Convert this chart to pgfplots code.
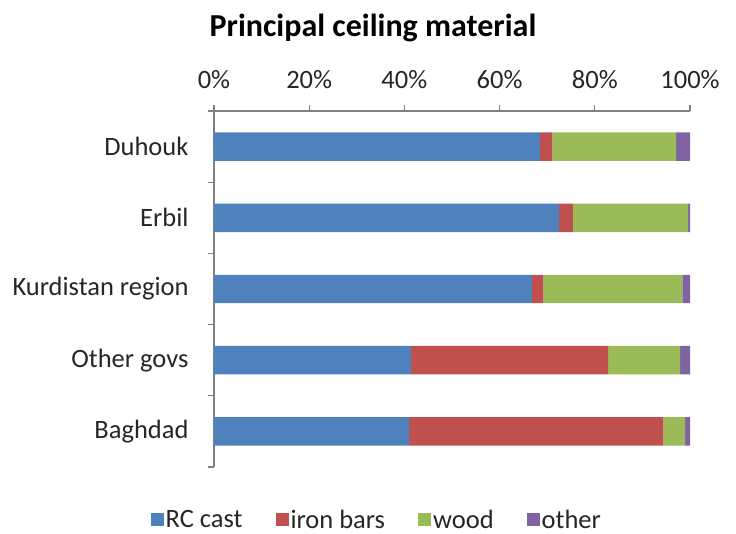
\documentclass[border=0pt]{standalone}
\usepackage{pgfplots}
\pgfplotsset{compat=1.18}
\usepackage{pgfplotstable}
\usepackage{fontspec}
\setmainfont{Carlito}
\definecolor{cblue}{HTML}{4F81BD}
\definecolor{cred}{HTML}{C0504D}
\definecolor{cgreen}{HTML}{9BBB59}
\definecolor{cpurple}{HTML}{8064A2}
\definecolor{axgray}{HTML}{808080}
\definecolor{txt}{HTML}{262626}
\pgfplotstableread{
y rc iron wood other
4 68.5 2.6 26.0 2.9
3 72.5 2.9 24.2 0.4
2 66.8 2.4 29.2 1.6
1 41.4 41.4 15.1 2.1
0 41.0 53.4 4.6 1.0
}\datatab
\begin{document}
\begin{tikzpicture}
\begin{axis}[
  scale only axis,
  width=476pt, height=356pt,
  xbar stacked,
  bar width=0.4,
  ymin=-0.5, ymax=4.5,
  xmin=0, xmax=100,
  axis x line*=top,
  axis y line*=left,
  axis line style={draw=axgray, line width=1.3pt},
  every tick/.style={draw=axgray, line width=1.3pt},
  tick align=outside,
  major tick length=6pt,
  xtick={0,20,40,60,80,100},
  xticklabels={0\%,20\%,40\%,60\%,80\%,100\%},
  ytick={-0.5,0.5,1.5,2.5,3.5,4.5},
  y tick label as interval,
  yticklabels={Baghdad,Other govs,Kurdistan region,Erbil,Duhouk},
  xticklabel style={font=\fontsize{26.5}{30}\selectfont, text=txt},
  yticklabel style={font=\fontsize{26.5}{30}\selectfont, text=txt},
  xticklabel shift=13pt,
  yticklabel shift=16pt,
  legend columns=4,
  legend style={draw=none, at={(0.342,-0.149)}, anchor=center,
    font=\fontsize{26.5}{30}\selectfont, text=txt,
    /tikz/every even column/.append style={column sep=31pt}},
  legend image code/.code={\fill[#1] (0pt,-6pt) rectangle (13pt,7pt);},
  clip=false,
]
\addplot[fill=cblue, draw=none] table[x=rc, y=y] {\datatab};
\addplot[fill=cred, draw=none] table[x=iron, y=y] {\datatab};
\addplot[fill=cgreen, draw=none] table[x=wood, y=y] {\datatab};
\addplot[fill=cpurple, draw=none] table[x=other, y=y] {\datatab};
\legend{RC cast, iron bars, wood, other}
\draw[axgray, line width=1.3pt] (rel axis cs:0,1) -- (rel axis cs:1,1);
\pgfplotsinvokeforeach{0,20,40,60,80,100}{
  \draw[axgray, line width=1.3pt] (axis cs:#1,4.5) -- ++(0pt,6pt);
}
\node[font=\bfseries\fontsize{32}{36}\selectfont, text=black] at (rel axis cs:0.334,1.233) {Principal ceiling material};
\path (rel axis cs:0,1) ++(-214pt,111pt) rectangle ++(736pt,-532pt);
\end{axis}
\end{tikzpicture}
\end{document}
